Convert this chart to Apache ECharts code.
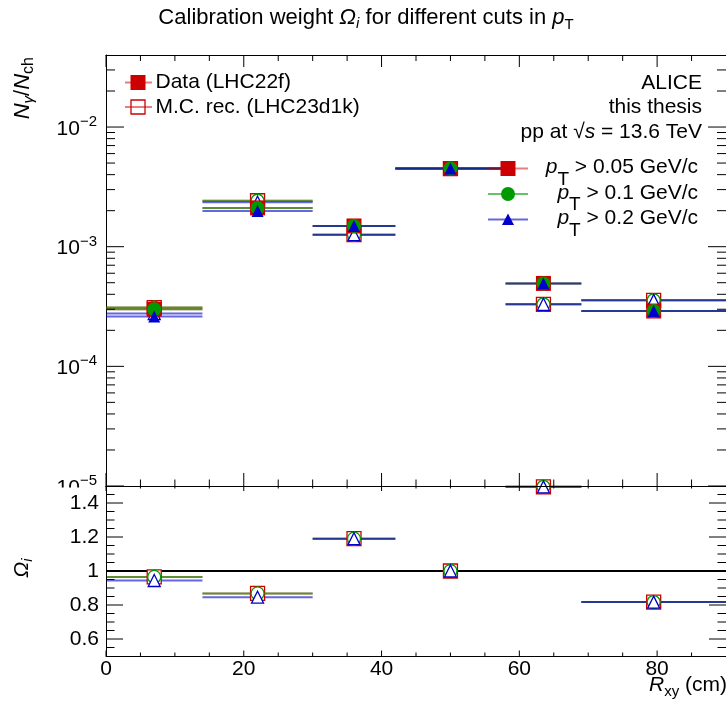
<!DOCTYPE html>
<html><head><meta charset="utf-8">
<script src="https://cdn.jsdelivr.net/npm/echarts@6/dist/echarts.min.js"></script>
<style>html,body{margin:0;padding:0;background:#fff}#c{width:726px;height:701px}</style>
</head><body><div id="c"></div><script>
// ---------- data ----------
const binLo = [0, 14, 30, 42, 58, 69];
const binHi = [14, 30, 42, 58, 69, 90];
const binCenter = [7, 22, 36, 50, 63.5, 79.5];
const data005 = [3.0e-4, 2.11e-3, 1.49e-3, 4.5e-3, 4.93e-4, 2.90e-4];
const data01  = [3.0e-4, 2.11e-3, 1.49e-3, 4.5e-3, 4.93e-4, 2.90e-4];
const data02  = [2.61e-4, 1.99e-3, 1.49e-3, 4.5e-3, 4.93e-4, 2.90e-4];
const mc005 = [3.1e-4, 2.42e-3, 1.26e-3, 4.5e-3, 3.30e-4, 3.56e-4];
const mc01  = [3.1e-4, 2.42e-3, 1.26e-3, 4.5e-3, 3.30e-4, 3.56e-4];
const mc02  = [2.76e-4, 2.35e-3, 1.26e-3, 4.5e-3, 3.30e-4, 3.56e-4];
const omega005 = [0.965, 0.868, 1.19, 1.0, 1.495, 0.817];
const omega01  = [0.965, 0.868, 1.19, 1.0, 1.495, 0.817];
const omega02  = [0.944, 0.846, 1.19, 1.0, 1.495, 0.817];
const unityLine = [1];
// tick positions / labels
const xMajorTicks = [0, 20, 40, 60, 80];
const xMinorTicks = [5, 10, 15, 25, 30, 35, 45, 50, 55, 65, 70, 75, 85];
const yTopMajorTicks = [1e-5, 1e-4, 1e-3, 1e-2];
const yTopMinorTicks = [2e-5,3e-5,4e-5,5e-5,6e-5,7e-5,8e-5,9e-5,2e-4,3e-4,4e-4,5e-4,6e-4,7e-4,8e-4,9e-4,2e-3,3e-3,4e-3,5e-3,6e-3,7e-3,8e-3,9e-3,2e-2,3e-2];
const yBotMajorTicks = [0.6, 0.8, 1.0, 1.2, 1.4];
const yBotMinorTicks = [0.55,0.65,0.7,0.75,0.85,0.9,0.95,1.05,1.1,1.15,1.25,1.3,1.35,1.45];
const yBotLabels = ['0.6', '0.8', '1', '1.2', '1.4'];
const xLabels = ['0', '20', '40', '60', '80'];
const legendTop = ['Data (LHC22f)', 'M.C. rec. (LHC23d1k)'];
const cutLabels = [' > 0.05 GeV/c', ' > 0.1 GeV/c', ' > 0.2 GeV/c'];

// ---------- style ----------
const FONT = '"Liberation Sans", Arial, Helvetica, sans-serif';
const RED = '#cc0000', GREEN = '#009900', BLUE = '#0000cc';
const RED_L = 'rgba(204,0,0,0.5)', GREEN_L = 'rgba(0,153,0,0.6)', BLUE_L = 'rgba(0,0,204,0.6)';
const X0 = 106, TOP0 = 55, W = 620, H0 = 431, TOP1 = 486, H1 = 170;

const mctx = document.createElement('canvas').getContext('2d');
function measure(t, s, it) { mctx.font = (it ? 'italic ' : '') + s + 'px ' + FONT; return mctx.measureText(t).width; }
function textRun(parts, ax, ay, align) {
  let tot = 0; parts.forEach(p => { p.w = measure(p.t, p.s, p.it); tot += p.w; });
  let x = align === 'right' ? ax - tot : align === 'center' ? ax - tot / 2 : ax;
  return parts.map(p => {
    const el = { type: 'text', x: x, y: ay + (p.dy || 0), z: 20, silent: true,
      style: { text: p.t, font: (p.it ? 'italic ' : '') + p.s + 'px ' + FONT, fill: '#000', align: 'left', verticalAlign: 'middle' } };
    x += p.w; return el;
  });
}

function errSeries(values, color, gi, width) {
  return { type: 'custom', xAxisIndex: gi * 2, yAxisIndex: gi * 2, silent: true, z: 2,
    data: values.map((v, i) => [binLo[i], binHi[i], v]),
    encode: { x: [0, 1], y: 2 },
    renderItem: (p, api) => {
      const a = api.coord([api.value(0), api.value(2)]);
      const b = api.coord([api.value(1), api.value(2)]);
      return { type: 'line', shape: { x1: a[0], y1: a[1], x2: b[0], y2: b[1] }, style: { stroke: color, lineWidth: width || 2 } };
    } };
}
function refSeries(vals) {
  return { type: 'custom', xAxisIndex: 2, yAxisIndex: 2, silent: true, z: 2,
    data: vals.map(v => [0, 90, v]), encode: { x: [0, 1], y: 2 },
    renderItem: (p, api) => {
      const a = api.coord([api.value(0), api.value(2)]);
      const b = api.coord([api.value(1), api.value(2)]);
      return { type: 'line', shape: { x1: a[0], y1: a[1], x2: b[0], y2: b[1] }, style: { stroke: '#000', lineWidth: 2 } };
    } };
}
function markSeries(values, gi, symbol, size, color, open, z) {
  return { type: 'scatter', xAxisIndex: gi * 2, yAxisIndex: gi * 2, silent: true, z: z,
    data: binCenter.map((c, i) => [c, values[i]]), symbol: symbol, symbolSize: size,
    itemStyle: open ? { color: '#fff', borderColor: color, borderWidth: 1.3, opacity: 1 } : { color: color, opacity: 1 } };
}
function tickSeries(gi, ylo, yhi, xMaj, xMin, yMaj, yMin, lens) {
  const items = [];
  xMaj.forEach(v => items.push([v, ylo, 0, lens.xM, lens.xMb]));
  xMin.forEach(v => items.push([v, ylo, 0, lens.xm, lens.xmb]));
  yMaj.forEach(v => items.push([0, v, 1, lens.yM, lens.yM]));
  yMin.forEach(v => items.push([0, v, 1, lens.ym, lens.ym]));
  return { type: 'custom', xAxisIndex: gi * 2, yAxisIndex: gi * 2, silent: true, z: 5, clip: false,
    data: items,
    renderItem: (p, api) => {
      const kind = api.value(2), l1 = api.value(3), l2 = api.value(4);
      const st = { stroke: '#000', lineWidth: 1 };
      if (kind === 0) {
        const v = api.value(0);
        const b = api.coord([v, ylo]), t = api.coord([v, yhi]);
        return { type: 'group', children: [
          { type: 'line', shape: { x1: b[0], y1: b[1], x2: b[0], y2: b[1] - l2 }, style: st },
          { type: 'line', shape: { x1: t[0], y1: t[1], x2: t[0], y2: t[1] + l1 }, style: st } ] };
      } else {
        const v = api.value(1);
        const L = api.coord([0, v]), R = api.coord([90, v]);
        return { type: 'group', children: [
          { type: 'line', shape: { x1: L[0], y1: L[1], x2: L[0] + l1, y2: L[1] }, style: st },
          { type: 'line', shape: { x1: R[0], y1: R[1], x2: R[0] - l1, y2: R[1] }, style: st } ] };
      }
    } };
}

const axLine = { show: true, onZero: false, lineStyle: { color: '#000', width: 1 } };
function xAx(gi, pos, labels, z) {
  return { type: 'value', gridIndex: gi, position: pos, min: 0, max: 90, interval: 5, z: z || 0,
    axisLine: axLine, axisTick: { show: false }, splitLine: { show: false },
    axisLabel: labels ? { show: true, hideOverlap: false, margin: 3, fontSize: 21, fontFamily: FONT, color: '#000',
      formatter: v => { const i = xMajorTicks.indexOf(Math.round(v)); return (i >= 0 && Math.abs(v - Math.round(v)) < 1e-6) ? xLabels[i] : ''; } } : { show: false } };
}
function logY(pos, labels) {
  return { type: 'log', logBase: 10, gridIndex: 0, position: pos, min: 1e-5, max: 0.04, z: 1,
    axisLine: axLine, axisTick: { show: false }, splitLine: { show: false }, minorSplitLine: { show: false },
    axisLabel: labels ? { show: true, hideOverlap: false, margin: 9, showMinLabel: true, showMaxLabel: true,
      formatter: v => { const l = Math.log10(v), e = Math.round(l); if (Math.abs(l - e) > 1e-6 || e > -2) return ''; return '{b|10}{s|−' + (-e) + '}'; },
      rich: { b: { fontSize: 21, fontFamily: FONT, color: '#000', lineHeight: 25, verticalAlign: 'bottom' },
              s: { fontSize: 15, fontFamily: FONT, color: '#000', lineHeight: 25, verticalAlign: 'top' } } } : { show: false } };
}
function linY(pos, labels) {
  return { type: 'value', gridIndex: 1, position: pos, min: 0.5, max: 1.5, interval: 0.05, z: 60,
    axisLine: axLine, axisTick: { show: false }, splitLine: { show: false },
    axisLabel: labels ? { show: true, hideOverlap: false, margin: 7, fontSize: 21, fontFamily: FONT, color: '#000',
      formatter: v => { for (let i = 0; i < yBotMajorTicks.length; i++) if (Math.abs(v - yBotMajorTicks[i]) < 1e-6) return yBotLabels[i]; return ''; } } : { show: false } };
}

const graphics = [];
// white cover: bottom pad hides lower part of the 10^-5 label
graphics.push({ type: 'rect', z: 50, silent: true, shape: { x: 20, y: 487.5, width: 85, height: 8 }, style: { fill: '#fff' } });
// title
graphics.push(...textRun([
  { t: 'Calibration weight ', s: 22 }, { t: 'Ω', s: 22, it: true }, { t: 'i', s: 15, it: true, dy: 6 },
  { t: ' for different cuts in ', s: 22 }, { t: 'p', s: 22, it: true }, { t: 'T', s: 15, dy: 7 }], 366, 18, 'center'));
// ALICE block
graphics.push(...textRun([{ t: 'ALICE', s: 21 }], 702, 83, 'right'));
graphics.push(...textRun([{ t: 'this thesis', s: 21 }], 702, 107.5, 'right'));
graphics.push(...textRun([{ t: 'pp at ', s: 21 }, { t: '√', s: 21 }, { t: 's', s: 21, it: true }, { t: ' = 13.6 TeV', s: 21 }], 702, 132, 'right'));
// top-left legend
graphics.push({ type: 'line', z: 20, shape: { x1: 125, y1: 82.5, x2: 152, y2: 82.5 }, style: { stroke: RED_L, lineWidth: 2 } });
graphics.push({ type: 'rect', z: 21, shape: { x: 130.5, y: 75, width: 15, height: 15 }, style: { fill: RED } });
graphics.push({ type: 'line', z: 20, shape: { x1: 125, y1: 107, x2: 152, y2: 107 }, style: { stroke: RED_L, lineWidth: 2 } });
graphics.push({ type: 'rect', z: 21, shape: { x: 131, y: 100, width: 14, height: 14 }, style: { fill: 'rgba(255,255,255,0)', stroke: RED, lineWidth: 1.3 } });
graphics.push(...textRun([{ t: legendTop[0], s: 21 }], 155.5, 82, 'left'));
graphics.push(...textRun([{ t: legendTop[1], s: 21 }], 155.5, 107, 'left'));
// pT legend
const rowsY = [168.5, 194, 219.5];
const rowLine = [RED_L, GREEN_L, BLUE_L];
rowsY.forEach((y, i) => graphics.push({ type: 'line', z: 20, shape: { x1: 488, y1: y, x2: 528, y2: y }, style: { stroke: rowLine[i], lineWidth: 2 } }));
graphics.push({ type: 'rect', z: 21, shape: { x: 500.5, y: 161, width: 15, height: 15 }, style: { fill: RED } });
graphics.push({ type: 'circle', z: 21, shape: { cx: 508, cy: 194, r: 7 }, style: { fill: GREEN } });
graphics.push({ type: 'polygon', z: 21, shape: { points: [[508, 213.5], [514, 225], [502, 225]] }, style: { fill: BLUE } });
rowsY.forEach((y, i) => graphics.push(...textRun([{ t: 'p', s: 21, it: true }, { t: 'T', s: 19, dy: 12 }, { t: cutLabels[i], s: 21 }], 698, y - 1, 'right')));
// axis titles
graphics.push({ type: 'group', x: 23, y: 57, rotation: Math.PI / 2, children: textRun([
  { t: 'N', s: 22, it: true }, { t: 'γ', s: 15, it: true, dy: 6 }, { t: '/', s: 22 }, { t: 'N', s: 22, it: true }, { t: 'ch', s: 16, dy: 6 }], 0, 0, 'right') });
graphics.push({ type: 'group', x: 22, y: 568, rotation: Math.PI / 2, children: textRun([
  { t: 'Ω', s: 21, it: true }, { t: 'i', s: 15, it: true, dy: 6 }], 0, 0, 'center') });
graphics.push(...textRun([{ t: 'R', s: 21, it: true }, { t: 'xy', s: 15, dy: 6 }, { t: ' (cm)', s: 21 }], 727, 685.5, 'right'));

const chart = echarts.init(document.getElementById('c'), null, { renderer: 'canvas' });
chart.setOption({
  animation: false,
  backgroundColor: '#fff',
  grid: [
    { left: X0, top: TOP0, width: W, height: H0, outerBoundsMode: 'none', containLabel: false },
    { left: X0, top: TOP1, width: W, height: H1, outerBoundsMode: 'none', containLabel: false }
  ],
  xAxis: [xAx(0, 'bottom', false), xAx(0, 'top', false), xAx(1, 'bottom', true, 60), xAx(1, 'top', false, 60)],
  yAxis: [logY('left', true), logY('right', false), linY('left', true), linY('right', false)],
  series: [
    // top pad: error lines
    errSeries(mc005, RED_L, 0), errSeries(mc01, GREEN_L, 0), errSeries(mc02, BLUE_L, 0),
    errSeries(data005, RED_L, 0), errSeries(data01, GREEN_L, 0), errSeries(data02, BLUE_L, 0),
    // MC open markers
    markSeries(mc005, 0, 'rect', 14, RED, true, 3), markSeries(mc01, 0, 'circle', 13, GREEN, true, 3), markSeries(mc02, 0, 'triangle', 12, BLUE, true, 3),
    // Data filled markers
    markSeries(data005, 0, 'rect', 15, RED, false, 4), markSeries(data01, 0, 'circle', 14, GREEN, false, 4), markSeries(data02, 0, 'triangle', 12, BLUE, false, 4),
    // bottom pad
    errSeries(omega005, RED_L, 1), errSeries(omega01, GREEN_L, 1), errSeries(omega02, BLUE_L, 1),
    refSeries(unityLine),
    markSeries(omega005, 1, 'rect', 14, RED, true, 3), markSeries(omega01, 1, 'circle', 13, GREEN, true, 3), markSeries(omega02, 1, 'triangle', 12, BLUE, true, 3),
    // frame ticks
    tickSeries(0, 1e-5, 0.04, xMajorTicks, xMinorTicks, yTopMajorTicks, yTopMinorTicks, { xM: 12, xMb: 13, xm: 6, xmb: 6.5, yM: 18, ym: 9 }),
    tickSeries(1, 0.5, 1.5, xMajorTicks, xMinorTicks, yBotMajorTicks, yBotMinorTicks, { xM: 5, xMb: 5.5, xm: 2.5, xmb: 3.5, yM: 17, ym: 8.5 })
  ],
  graphic: { elements: graphics }
});
</script></body></html>
